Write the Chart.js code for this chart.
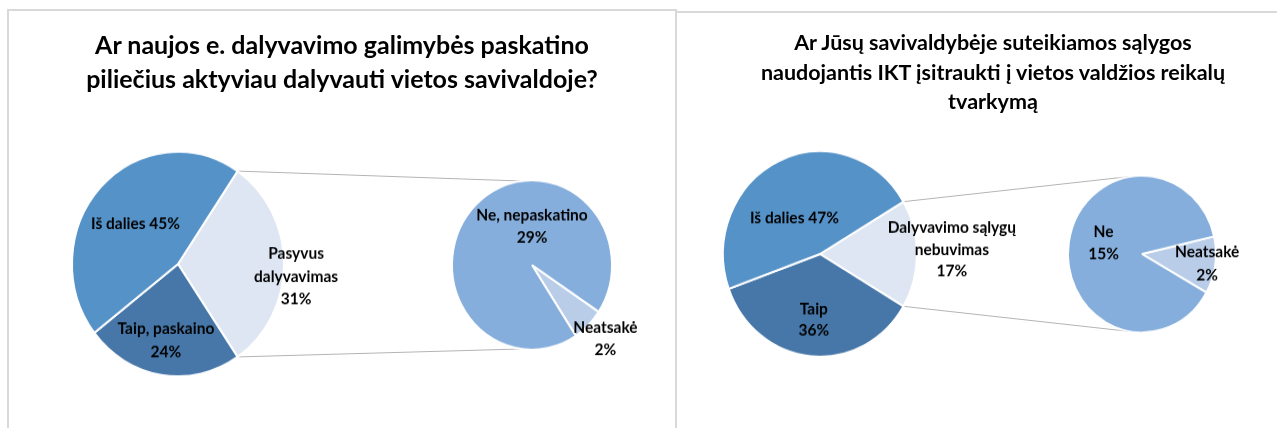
<!DOCTYPE html>
<html>
<head>
<meta charset="utf-8">
<script src="https://cdn.jsdelivr.net/npm/chart.js@4/dist/chart.umd.min.js"></script>
<style>
  body { margin: 0; background: #fff; width: 1277px; height: 428px; overflow: hidden; position: relative; font-family: Lato, sans-serif; }
  .panel { position: absolute; border: 2px solid #d9d9d9; border-bottom: none; box-sizing: border-box; }
  .title { position: absolute; text-align: center; font-weight: bold; color: #000; }
  canvas { position: absolute; }
</style>
</head>
<body>
<div class="panel" style="left:7px;top:9px;width:670px;height:440px"></div>
<div class="panel" style="left:675px;top:11px;width:640px;height:440px"></div>
<canvas id="lines" width="1277" height="428" style="left:0;top:0"></canvas>
<div class="title" style="left:7px;width:670px;top:27px;font-size:25px;line-height:34px">Ar naujos e. dalyvavimo galimybės paskatino<br>piliečius aktyviau dalyvauti vietos savivaldoje?</div>
<div class="title" style="left:675px;width:636px;top:28px;font-size:21.5px;line-height:29.5px">Ar Jūsų savivaldybėje suteikiamos sąlygos<br>naudojantis IKT įsitraukti į vietos valdžios reikalų<br>tvarkymą</div>
<canvas id="big1"></canvas>
<canvas id="small1"></canvas>
<canvas id="big2"></canvas>
<canvas id="small2"></canvas>
<script>
'use strict';

// chart 1: Ar naujos e. dalyvavimo galimybės paskatino ...
const big1_labels = ['Pasyvus\ndalyvavimas', 'Taip, paskaino', 'Iš dalies'];
const small1_labels = ['Neatsakė', 'Ne, nepaskatino'];
const small1_values = [2, 29];
const big1_values = [31, 24, 45];

// chart 2: Ar Jūsų savivaldybėje suteikiamos sąlygos ...
const big2_labels = ['Dalyvavimo sąlygų\nnebuvimas', 'Taip', 'Iš dalies'];
const small2_labels = ['Neatsakė', 'Ne'];
const small2_values = [2, 15];
const big2_values = [17, 36, 47];

const big_colors = ['#dee6f3', '#4677a8', '#5592c8'];
const small_colors = ['#b9cde9', '#85aedc'];

const BORDER = 2;
// the original picture is a little taller than wide
const STRETCH = 1.06;

// draws "name pct%" labels at a radius factor along the slice's mid angle (or a given clock angle)
const slice_labels = {
    id: 'slice_labels',
    afterDatasetsDraw(chart, args, opts) {
        const ctx = chart.ctx;
        const meta = chart.getDatasetMeta(0);
        const values = chart.data.datasets[0].data;
        ctx.save();
        ctx.font = opts.font;
        ctx.fillStyle = '#000';
        ctx.textAlign = 'center';
        ctx.textBaseline = 'middle';
        meta.data.forEach((arc, i) => {
            const [f, deg] = opts.place[i];
            const a = deg == null ? (arc.startAngle + arc.endAngle) / 2 : (deg - 90) * Math.PI / 180;
            const x = arc.x + Math.cos(a) * arc.outerRadius * f;
            const y = arc.y + Math.sin(a) * arc.outerRadius * f / STRETCH;
            const lines = (chart.data.labels[i] + opts.sep[i] + values[i] + '%').split('\n');
            lines.forEach((t, k) => ctx.fillText(t, x, y + (k - (lines.length - 1) / 2) * opts.line_height / STRETCH));
        });
        ctx.restore();
    }
};

// box = [left, top, width, height] of the canvas on the page; pie centred at cx, cy with radius r
const make_pie = (id, box, cx, cy, r, labels, values, colors, rotation, label_opts) => {
    const canvas = document.getElementById(id);
    const [left, top, w, h] = box;
    canvas.width = w;
    canvas.height = h;
    canvas.style.left = left + 'px';
    canvas.style.top = top + 'px';
    canvas.style.transformOrigin = `${cx - left}px ${cy - top}px`;
    canvas.style.transform = `scaleY(${STRETCH})`;
    const side = 2 * r + BORDER;
    const pad_left = cx - r - BORDER / 2 - left;
    const pad_top = cy - r - BORDER / 2 - top;
    return new Chart(canvas, {
        type: 'pie',
        data: {
            labels: labels,
            datasets: [{
                data: values,
                backgroundColor: colors,
                borderColor: '#fff',
                borderWidth: BORDER,
                hoverOffset: 0,
                offset: 0
            }]
        },
        options: {
            responsive: false,
            animation: false,
            events: [],
            rotation: rotation,
            layout: { padding: { left: pad_left, top: pad_top, right: w - pad_left - side, bottom: h - pad_top - side } },
            plugins: {
                legend: { display: false },
                tooltip: { enabled: false },
                slice_labels: label_opts
            }
        },
        plugins: [slice_labels]
    });
};

const label_font = 'bold 15.5px Lato';

// the split-off slice is centred on the right side, like Excel's pie of pie
const rotation_for = values => 90 - values[0] / values.reduce((a, b) => a + b, 0) * 180;

const big1 = make_pie('big1', [8, 130, 420, 270], 178, 264, 106, big1_labels, big1_values, big_colors,
    rotation_for(big1_values),
    { font: label_font, line_height: 23, place: [[1.12, 96], [0.73, null], [0.55, null]], sep: ['\n', '\n', ' '] });

const small1 = make_pie('small1', [428, 150, 245, 240], 532, 265, 80, small1_labels, small1_values, small_colors,
    123.5,
    { font: label_font, line_height: 22, place: [[1.3, null], [0.48, 0]], sep: ['\n', '\n'] });

const big2 = make_pie('big2', [680, 130, 370, 260], 820, 254, 97, big2_labels, big2_values, big_colors,
    rotation_for(big2_values),
    { font: label_font, line_height: 22, place: [[1.36, 88], [0.68, null], [0.46, 325]], sep: ['\n', '\n', ' '] });

const small2 = make_pie('small2', [1050, 150, 227, 220], 1142, 254, 74, small2_labels, small2_values, small_colors,
    77,
    { font: label_font, line_height: 23, place: [[0.89, null], [0.54, 286]], sep: ['\n', '\n'] });

// connector lines from the split slice's edges to the top and bottom of the secondary pie
const draw_connectors = (big, small) => {
    const ctx = document.getElementById('lines').getContext('2d');
    const arc = big.getDatasetMeta(0).data[0];
    const s = small.getDatasetMeta(0).data[0];
    const bx = big.canvas.offsetLeft + arc.x, by = big.canvas.offsetTop + arc.y;
    const sx = small.canvas.offsetLeft + s.x, sy = small.canvas.offsetTop + s.y;
    const pt = (x, y, r, a) => [x + Math.cos(a) * r, y + Math.sin(a) * r * STRETCH];
    const deg = d => (d - 90) * Math.PI / 180;
    const pairs = [
        [pt(bx, by, arc.outerRadius, arc.startAngle), pt(sx, sy, s.outerRadius, deg(-8))],
        [pt(bx, by, arc.outerRadius, arc.endAngle), pt(sx, sy, s.outerRadius, deg(188))]
    ];
    ctx.strokeStyle = '#b4b4b4';
    ctx.lineWidth = 1;
    for (const [a, b] of pairs) {
        ctx.beginPath();
        ctx.moveTo(a[0], a[1]);
        ctx.lineTo(b[0], b[1]);
        ctx.stroke();
    }
};

draw_connectors(big1, small1);
draw_connectors(big2, small2);
</script>
</body>
</html>
